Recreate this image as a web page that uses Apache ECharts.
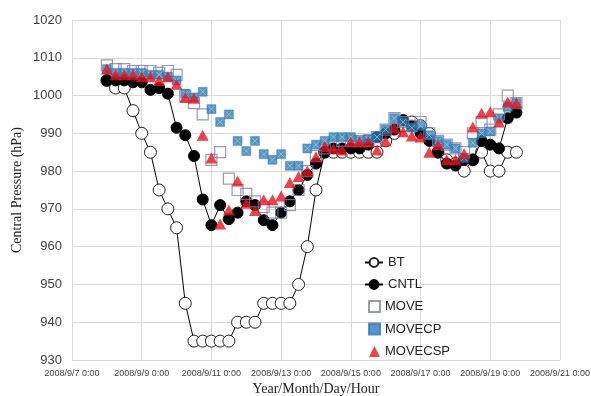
<!DOCTYPE html>
<html>
<head>
<meta charset="utf-8">
<script src="https://cdn.jsdelivr.net/npm/echarts@6/dist/echarts.min.js"></script>
<style>
html,body{margin:0;padding:0;background:#fff;}
#chart{width:591px;height:396px;}
</style>
</head>
<body>
<div id="chart"></div>
<script>
// hours since 2008/9/7 0:00
var hours = [24,30,36,42,48,54,60,66,72,78,84,90,96,102,108,114,120,126,132,138,144,150,156,162,168,174,180,186,192,198,204,210,216,222,228,234,240,246,252,258,264,270,276,282,288,294,300,306];

var BT = [1004,1002,1002,996,990,985,975,970,965,945,935,935,935,935,935,940,940,940,945,945,945,945,950,960,975,985,985,985,985,985,985,985,988,990,992,993,992,990,985,983,982,980,983,985,980,980,985,985];

var CNTL = [1004,1004,1004,1003.5,1003.5,1001.5,1002,1000.5,991.5,989.5,984,972.5,965.7,971,967.3,969,972,971,967,965.7,969,972,975,979,982,985,986,986,986,986,987,989,990,991,993.5,992,990,988,985,982,981.5,983,983,988,987,986,994,995.5];

var MOVE = [1008,1007,1007,1006.5,1006.5,1006.5,1006,1006.5,1005.5,1000,998,995,983,985,978,975,974,972,970.5,969,969,971,975,980,984,986,987,988,988,988,988,989,991,994,993,992,993,990,988,987,986,985,990,993,991,995,1000,998];

var MOVECP = [1007,1006,1006,1006,1006,1005.5,1005.5,1005,1004,1000.5,999.5,1001,996.4,993,995,988,985.3,988,984.5,983,984.5,981.4,981.4,986,987,988,989,989,989,988,988.5,989,991,994,993,991.5,992,989.5,988,987,986,983.5,987.5,990,990.5,994,997,998];

var MOVECSP = [1007,1005.5,1005.5,1005.5,1005,1005,1004,1005,1003,999.5,999.3,989.5,983.5,966,969.7,977.4,971.5,969.6,972.4,972.4,973.4,977,978.6,980,983.8,986.5,986,985.6,987.7,987.7,987.7,985.6,988,991.4,990.4,989.3,989,985,987,983,983,984.6,991.7,995.3,995.7,993,998.3,998];

var xTickDays = ['2008/9/7 0:00','2008/9/9 0:00','2008/9/11 0:00','2008/9/13 0:00','2008/9/15 0:00','2008/9/17 0:00','2008/9/19 0:00','2008/9/21 0:00'];

function pairs(v){ return hours.map(function(h,i){ return [h, v[i]]; }); }

var legendText = {fontFamily:'Liberation Sans', fontSize:13, color:'#222'};

var chart = echarts.init(document.getElementById('chart'), null, {renderer:'canvas'});
var option = {
  animation:false,
  backgroundColor:'#ffffff',
  grid:{left:72, right:31, top:20, bottom:36, containLabel:false, outerBoundsMode:'none'},
  xAxis:{
    type:'value', min:0, max:336, interval:48,
    name:'Year/Month/Day/Hour', nameLocation:'middle', nameGap:22, nameMoveOverlap:false,
    nameTextStyle:{fontFamily:'Liberation Serif', fontSize:14, color:'#222'},
    axisLine:{show:false}, axisTick:{show:false},
    axisLabel:{fontFamily:'Liberation Sans', fontSize:9, color:'#404040', margin:9,
      formatter:function(v){ return xTickDays[Math.round(v/48)]; }},
    splitLine:{show:true, lineStyle:{color:'#d9d9d9', width:1}}
  },
  yAxis:{
    type:'value', min:930, max:1020, interval:10,
    name:'Central Pressure (hPa)', nameLocation:'middle', nameGap:48, nameMoveOverlap:false,
    nameTextStyle:{fontFamily:'Liberation Serif', fontSize:14, color:'#222'},
    axisLine:{show:false}, axisTick:{show:false},
    axisLabel:{fontFamily:'Liberation Sans', fontSize:13, color:'#404040', margin:10,
      formatter:function(v){ return String(v); }},
    splitLine:{show:true, lineStyle:{color:'#d9d9d9', width:1}}
  },
  legend:[
    {orient:'vertical', left:364, top:256, itemGap:9, itemWidth:18, itemHeight:11, padding:0,
     textStyle:legendText, data:['BT','CNTL']},
    {orient:'vertical', left:368, top:300, itemGap:9.5, itemWidth:11, itemHeight:11, padding:0,
     textStyle:legendText, data:['MOVE','MOVECP','MOVECSP']}
  ],
  series:[
    {name:'BT', type:'line', data:pairs(BT), symbol:'circle', symbolSize:12,
     lineStyle:{color:'#000', width:1}, itemStyle:{color:'#fff', borderColor:'#222', borderWidth:1}, z:2},
    {name:'CNTL', type:'line', data:pairs(CNTL), symbol:'circle', symbolSize:11,
     lineStyle:{color:'#000', width:1}, itemStyle:{color:'#000', borderColor:'#000', borderWidth:1}, z:3},
    {name:'MOVE', type:'scatter', data:pairs(MOVE), symbol:'rect', symbolSize:11,
     itemStyle:{color:'rgba(255,255,255,0)', borderColor:'#7e7eaa', borderWidth:1.2}, z:4},
    {name:'MOVECP', type:'scatter', data:pairs(MOVECP), symbol:'rect', symbolSize:9,
     itemStyle:{color:'#2a7bbd', borderColor:'#2a7bbd', borderWidth:0.5}, z:5},
    {name:'MOVECP_x', type:'scatter', data:pairs(MOVECP), symbol:'path://M0,0L10,10M10,0L0,10', symbolSize:6,
     itemStyle:{color:'none', borderColor:'#9fd0a8', borderWidth:1}, z:6, silent:true},
    {name:'MOVECSP', type:'scatter', data:pairs(MOVECSP), symbol:'triangle', symbolSize:[12,11],
     itemStyle:{color:'#e8131b'}, z:7}
  ]
};
chart.setOption(option);
</script>
</body>
</html>
